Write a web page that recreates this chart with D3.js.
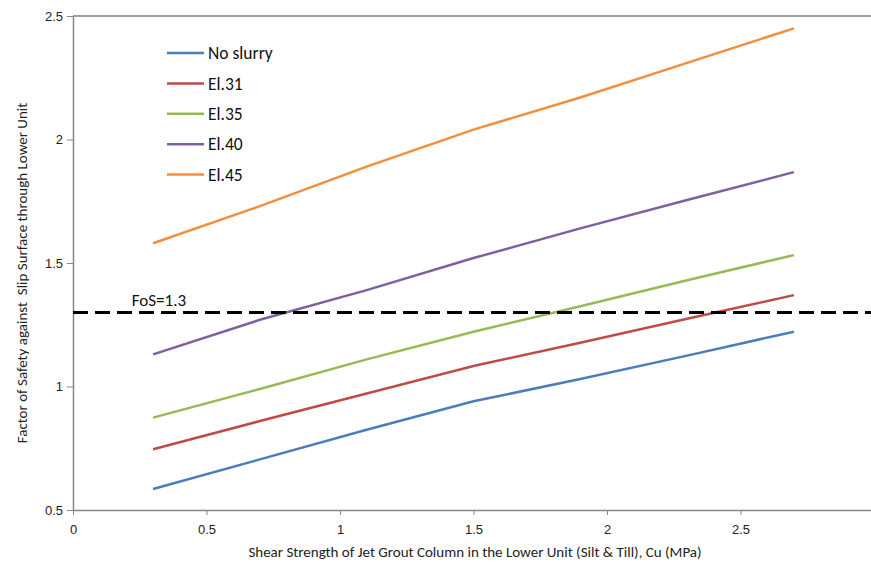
<!DOCTYPE html>
<html>
<head>
<meta charset="utf-8">
<script src="https://cdn.jsdelivr.net/npm/d3@7"></script>
<style>
  body { margin: 0; background: #fff; }
  svg { display: block; font-family: Calibri, Carlito, Lato, "Open Sans", sans-serif; }
</style>
</head>
<body>
<div id="chart"></div>
<script>
// data
const cuValues = [0.3, 0.7, 1.1, 1.5, 1.9, 2.3, 2.7];
const noSlurry = [0.585, 0.705, 0.825, 0.94, 1.03, 1.125, 1.222];
const el31 = [0.746, 0.86, 0.972, 1.083, 1.177, 1.274, 1.37];
const el35 = [0.874, 0.99, 1.11, 1.222, 1.325, 1.43, 1.532];
const el40 = [1.13, 1.27, 1.39, 1.52, 1.64, 1.755, 1.868];
const el45 = [1.58, 1.73, 1.89, 2.04, 2.17, 2.31, 2.45];
const seriesNames = ['No slurry', 'El.31', 'El.35', 'El.40', 'El.45'];
const seriesColors = ['#4a7ebb', '#be4b48', '#98b954', '#7d60a0', '#f28e3c'];
const xTicks = [0, 0.5, 1, 1.5, 2, 2.5, 3];
const yTicks = [0.5, 1, 1.5, 2, 2.5];
const fosValue = 1.3;

const W = 871, H = 568;
const margin = {top: 16, left: 73, bottom: 58};
const plotRight = 874; // 3.0 sits just past the window edge

const series = [noSlurry, el31, el35, el40, el45].map((vals, i) => ({
    name: seriesNames[i],
    color: seriesColors[i],
    points: cuValues.map((c, j) => ({x: c, y: vals[j]}))
}));

const svg = d3.select('#chart').append('svg')
    .attr('width', W)
    .attr('height', H);

const xScale = d3.scaleLinear().domain([0, 3]).range([margin.left, plotRight]);
const yScale = d3.scaleLinear().domain([0.5, 2.5]).range([H - margin.bottom, margin.top]);

// top frame line
svg.append('line')
    .attr('x1', margin.left).attr('x2', W)
    .attr('y1', yScale(2.5)).attr('y2', yScale(2.5))
    .attr('stroke', '#7f7f7f').attr('stroke-width', 1.5);

// axes
const xAxis = svg.append('g')
    .attr('transform', `translate(0,${yScale(0.5)})`)
    .call(d3.axisBottom(xScale).tickValues(xTicks).tickSize(5).tickSizeOuter(0).tickFormat(d3.format('')));
const yAxis = svg.append('g')
    .attr('transform', `translate(${margin.left},0)`)
    .call(d3.axisLeft(yScale).tickValues(yTicks).tickSize(6).tickSizeOuter(0).tickFormat(d3.format('')));

[xAxis, yAxis].forEach(g => {
    g.select('.domain').attr('stroke', '#868686').attr('stroke-width', 1.5);
    g.selectAll('.tick line').attr('stroke', '#868686');
    g.selectAll('.tick text')
        .attr('fill', '#222')
        .style('font-size', '13px')
        .style('font-family', 'inherit');
});
xAxis.selectAll('.tick text').attr('dy', '1.2em');
yAxis.selectAll('.tick text').attr('x', -10);

// lines
const lineGen = d3.line()
    .x(d => xScale(d.x))
    .y(d => yScale(d.y));

svg.append('g')
    .selectAll('path')
    .data(series)
    .join('path')
    .attr('fill', 'none')
    .attr('stroke', d => d.color)
    .attr('stroke-width', 2.5)
    .attr('d', d => lineGen(d.points));

// FoS reference line
svg.append('line')
    .attr('x1', margin.left).attr('x2', W)
    .attr('y1', yScale(fosValue)).attr('y2', yScale(fosValue))
    .attr('stroke', '#000')
    .attr('stroke-width', 3)
    .attr('stroke-dasharray', '15,7');
svg.append('text')
    .attr('x', xScale(0.22))
    .attr('y', yScale(fosValue) - 6)
    .style('font-size', '17px')
    .attr('fill', '#111')
    .text('FoS=' + fosValue);

// legend
const legend = svg.append('g')
    .attr('transform', 'translate(167,53)');
const legendRows = legend.selectAll('g')
    .data(series)
    .join('g')
    .attr('transform', (d, i) => `translate(0,${i * 30.4})`);
legendRows.append('line')
    .attr('x1', 0).attr('x2', 37)
    .attr('stroke', d => d.color)
    .attr('stroke-width', 2.5);
legendRows.append('text')
    .attr('x', 41)
    .attr('dy', '0.35em')
    .style('font-size', '17.5px')
    .attr('fill', '#111')
    .text(d => d.name);

// axis titles
svg.append('text')
    .attr('x', 475)
    .attr('y', 557)
    .attr('text-anchor', 'middle')
    .style('font-size', '15px')
    .attr('fill', '#222')
    .text('Shear Strength of Jet Grout Column in the Lower Unit (Silt & Till), Cu (MPa)');

svg.append('text')
    .attr('transform', `translate(27,${(yScale(0.5) + yScale(2.5)) / 2 + 10}) rotate(-90)`)
    .attr('text-anchor', 'middle')
    .style('font-size', '15px')
    .attr('fill', '#222')
    .text('Factor of Safety against\u00a0 Slip Surface through Lower Unit');
</script>
</body>
</html>
